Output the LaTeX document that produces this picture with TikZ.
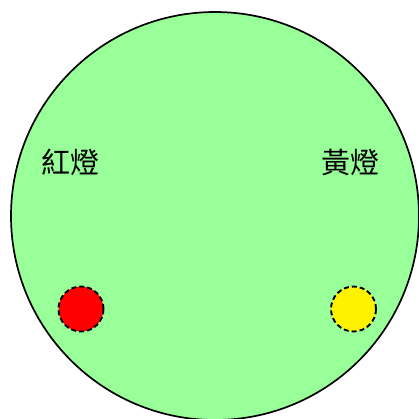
\documentclass[tikz,border=0pt]{standalone}
\usepackage{fontspec}
\newfontfamily\cjk{Noto Sans CJK TC}
\definecolor{boardgreen}{RGB}{153,255,153}
\tikzset{
  board/.style={circle, draw, line width=1.7pt, fill=boardgreen, minimum size=408pt, inner sep=0pt},
  lamp/.style={circle, draw, dashed, dash pattern=on 5pt off 3pt, line width=1.9pt, minimum size=45pt, inner sep=0pt},
  lampname/.style={font=\cjk\fontsize{29}{29}\selectfont, inner sep=0pt},
}
\begin{document}
\begin{tikzpicture}[x=1pt, y=-1pt]
  \useasboundingbox (0,0) rectangle (419,418);
  % Panel and lamps
  \node[board] (panel) at (215,216) {};
  \node[lampname] (redname) at (70,162) {紅燈};
  \node[lampname] (yellowname) at (350,162) {黃燈};
  \node[lamp, fill=red] (redlamp) at (81,309) {};
  \node[lamp, fill=yellow] (yellowlamp) at (353.5,309) {};
\end{tikzpicture}
\end{document}
